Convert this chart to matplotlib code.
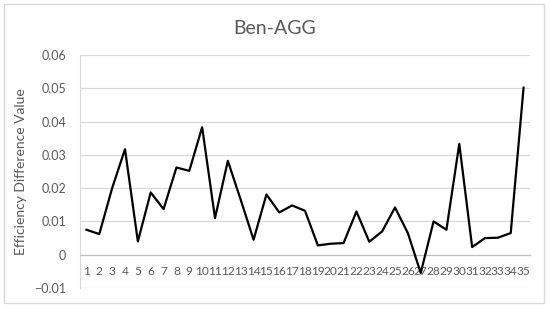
import matplotlib
matplotlib.use("Agg")
import matplotlib.pyplot as plt
from matplotlib.patches import Rectangle

plt.rcParams['font.family'] = ['Lato', 'DejaVu Sans']

# data
categories = list(range(1, 36))
values = [0.0075, 0.0062, 0.0200, 0.0317, 0.0040, 0.0187, 0.0137, 0.0262, 0.0252, 0.0383,
          0.0110, 0.0282, 0.0165, 0.0045, 0.0181, 0.0127, 0.0148, 0.0132, 0.0028, 0.0033,
          0.0035, 0.0130, 0.0039, 0.0070, 0.0142, 0.0065, -0.0055, 0.0100, 0.0075, 0.0333,
          0.0023, 0.0050, 0.0051, 0.0065, 0.0502]
yticks = [-0.01, 0, 0.01, 0.02, 0.03, 0.04, 0.05, 0.06]
ytick_labels = ['\u22120.01', '0', '0.01', '0.02', '0.03', '0.04', '0.05', '0.06']

grey = '#595959'
fig = plt.figure(figsize=(5.5, 3.09), dpi=100)
ax = fig.add_axes([80 / 550, 1 - 288 / 309, 450 / 550, 233 / 309])

fig.patches.append(Rectangle((4 / 550, 1 - 303 / 309), 540 / 550, 299 / 309,
                             transform=fig.transFigure, fill=False,
                             edgecolor='#d9d9d9', linewidth=1))

ax.plot(categories, values, color='black', linewidth=1.6, zorder=3)

ax.set_xlim(0.5, 35.5)
ax.set_ylim(-0.01, 0.06)
ax.set_yticks(yticks)
ax.set_yticklabels(ytick_labels)
ax.grid(axis='y', color='#d9d9d9', linewidth=0.9)
ax.set_axisbelow(True)

ax.set_xticks(categories)
ax.set_xticklabels([str(c) for c in categories])
ax.spines['bottom'].set_position(('data', 0))
ax.spines['bottom'].set_color('#bfbfbf')
ax.spines['left'].set_color('#d9d9d9')
ax.spines['top'].set_visible(False)
ax.spines['right'].set_visible(False)
ax.tick_params(axis='x', length=0, pad=8, labelsize=8.6, labelcolor=grey)
ax.tick_params(axis='y', length=0, pad=10, labelsize=9, labelcolor=grey)

ax.set_ylabel('Efficiency Difference Value', fontsize=10, color=grey, labelpad=5)
fig.text(0.5, 1 - 28 / 309, 'Ben-AGG', ha='center', va='center', fontsize=14, color=grey)

fig.savefig('out.png', dpi=100)
